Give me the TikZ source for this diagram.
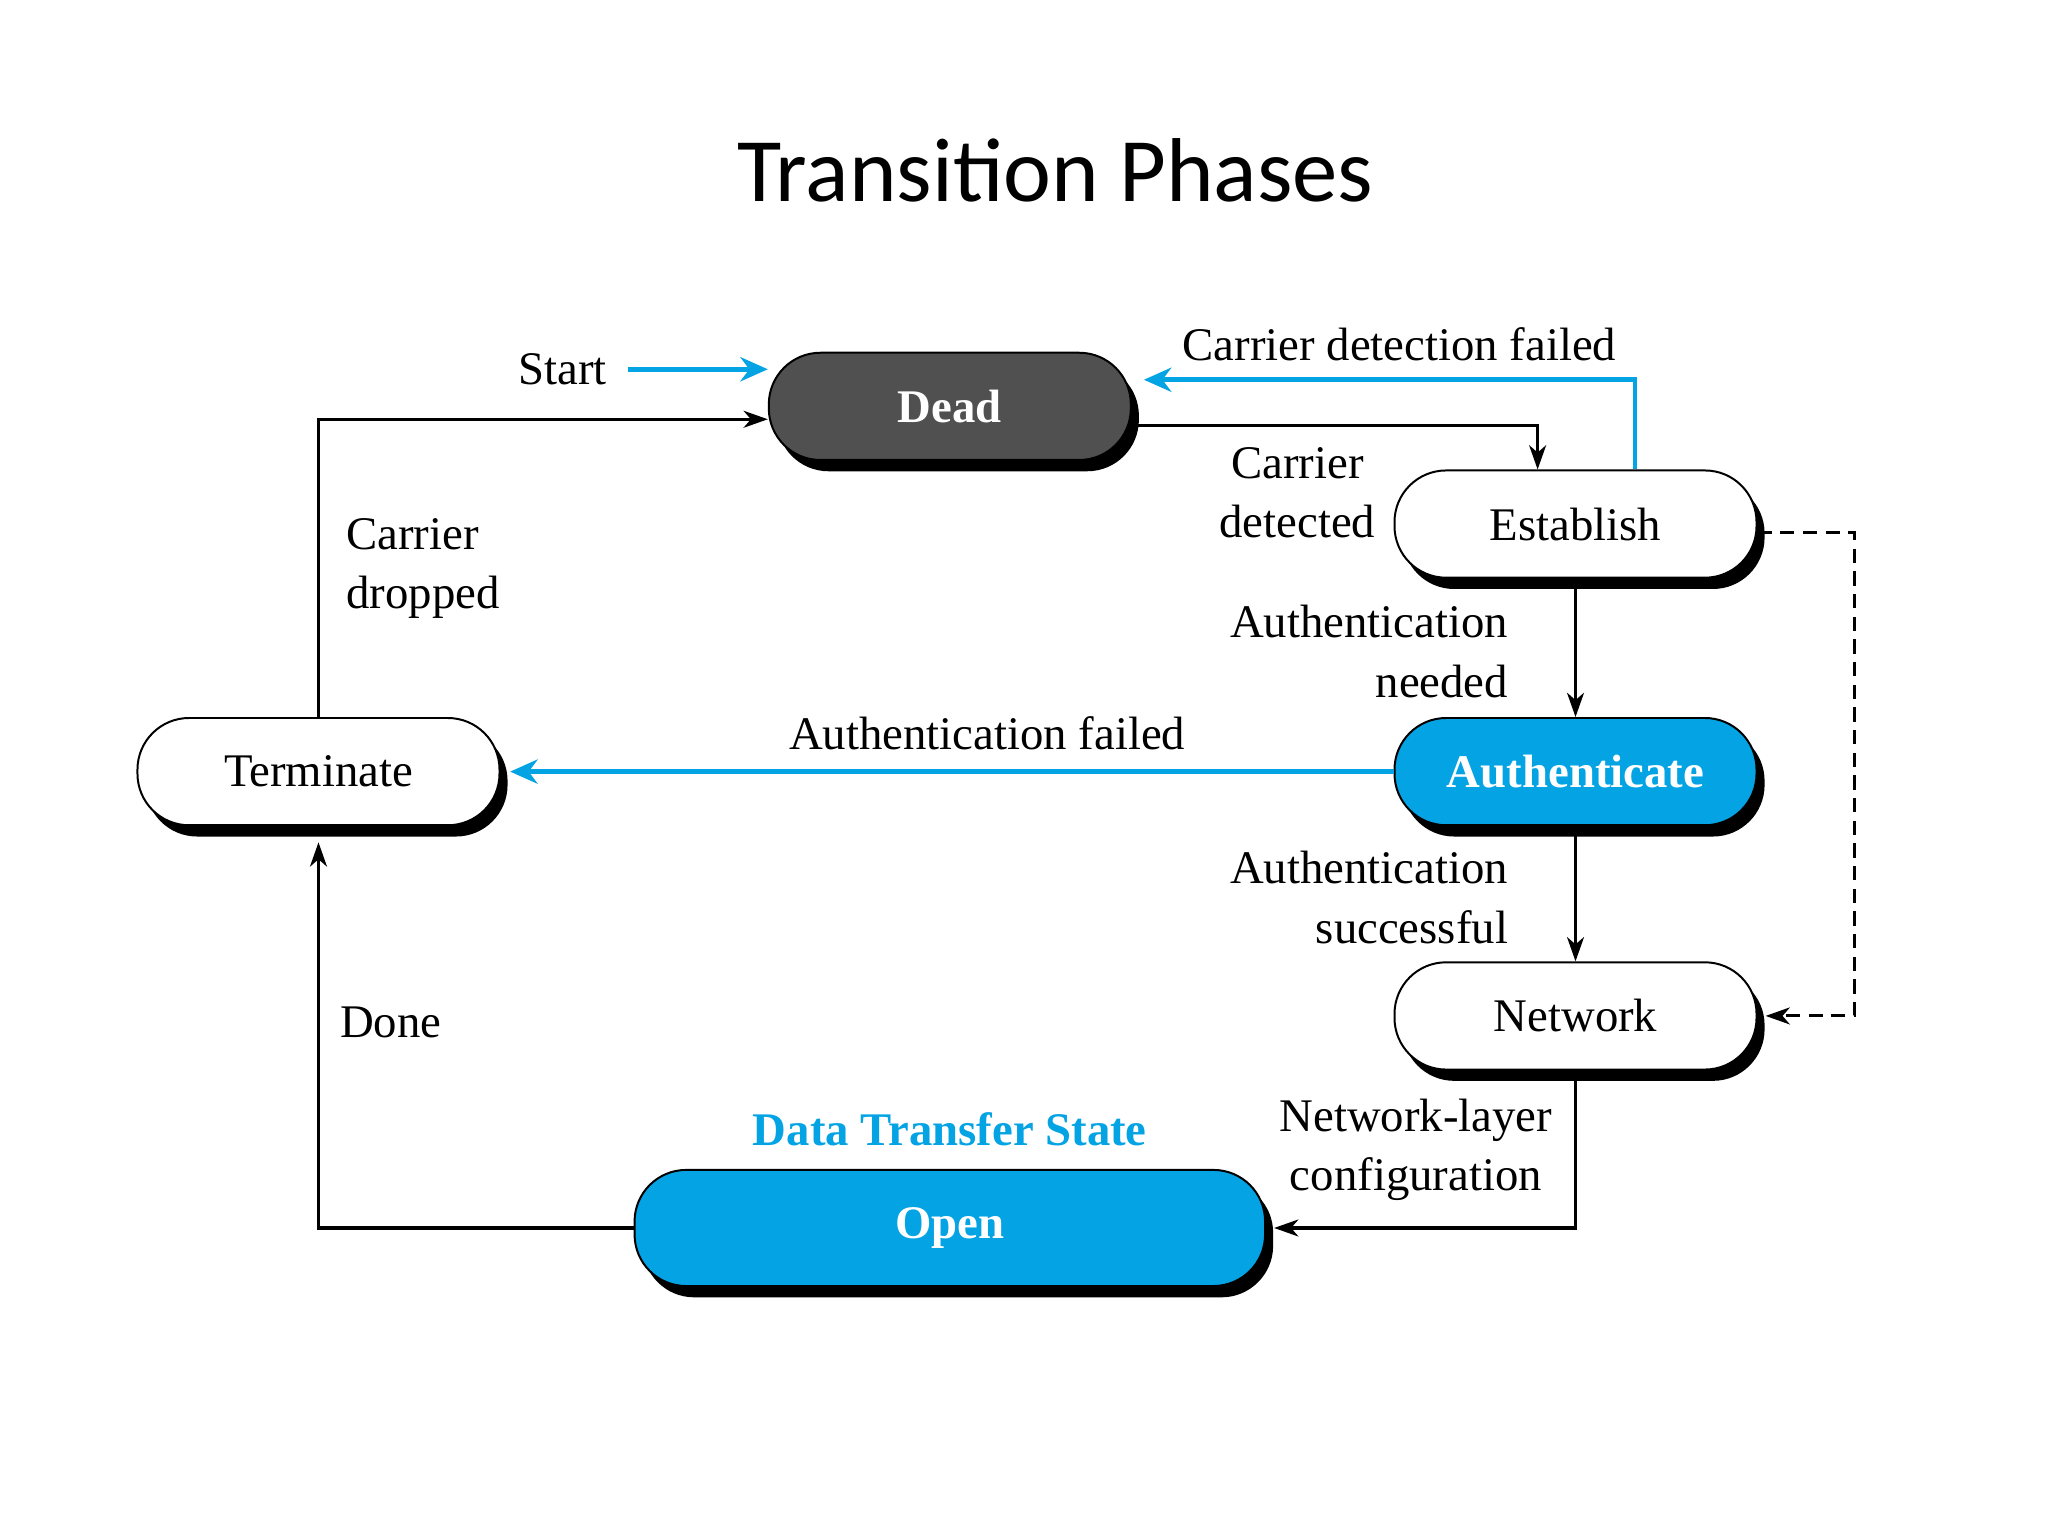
\documentclass[tikz,border=0pt]{standalone}
\usepackage{fontspec}
\setmainfont{Liberation Serif}
\newfontfamily\titlefont{Carlito}
\usepackage{tikz}
\usetikzlibrary{arrows.meta, positioning, shadows, calc}
\definecolor{pppblue}{RGB}{4,163,228}
\definecolor{deadgray}{RGB}{80,80,80}

\begin{document}
\begin{tikzpicture}[
  font=\fontsize{16.5}{21}\selectfont,
  phase/.style={draw=black, line width=0.7pt, rounded corners=0.64cm, fill=white, align=center,
    inner sep=0pt, minimum width=4.49cm, minimum height=1.33cm,
    drop shadow={shadow xshift=0.1cm, shadow yshift=-0.14cm, fill=black, opacity=1}},
  darkphase/.style={phase, fill=deadgray, text=white, font=\fontsize{16.5}{21}\selectfont\bfseries},
  bluephase/.style={phase, fill=pppblue, text=white, font=\fontsize{16.5}{21}\selectfont\bfseries},
  lbl/.style={align=center, inner sep=0pt},
  arr/.style={-{Stealth[length=3mm, width=2.1mm, inset=0.9mm]}, line width=1.1pt},
  barr/.style={-{Stealth[length=3.4mm, width=3mm]}, line width=1.6pt, pppblue}
]
  \useasboundingbox (0,0) rectangle (25.4,19.05);
  \node[font=\titlefont\fontsize{32}{38}\selectfont] (title) at (13.09,16.94) {Transition Phases};

  \node[darkphase] (dead) at (11.78,14.01) {Dead};
  \node[phase] (est) at (19.54,12.55) {Establish};
  \node[bluephase] (auth) at (19.54,9.48) {Authenticate};
  \node[phase] (net) at (19.54,6.45) {Network};
  \node[phase] (term) at (3.95,9.48) {Terminate};
  \node[bluephase, minimum width=7.82cm, minimum height=1.44cm] (open) at (11.78,3.82) {Open};
  \node[lbl, above=0.28cm of open, text=pppblue, font=\fontsize{16.5}{21}\selectfont\bfseries] (dts) {Data Transfer State};

  \node[lbl] (start) at (6.98,14.47) {Start};
  \node[lbl] (cdet) at (16.09,12.94) {Carrier\\detected};
  \node[lbl, align=right, anchor=east] (aneed) at (18.71,10.97) {Authentication\\needed};
  \node[lbl, align=right, anchor=east] (asucc) at (18.71,7.92) {Authentication\\successful};
  \node[lbl, align=left, anchor=west] (cdrop) at (4.29,12.0) {Carrier\\dropped};
  \node[lbl, anchor=west] (done) at (4.21,6.37) {Done};
  \node[lbl] (nlc) at (17.56,4.79) {Network-layer\\configuration};

  \draw[barr] ([xshift=0.25cm]start.east) -- (start -| dead.west);
  \draw[arr] ([yshift=-0.24cm]dead.east) -| ([xshift=-0.47cm]est.north);
  \draw[barr] ([xshift=0.74cm]est.north) |- ([xshift=0.15cm, yshift=0.33cm]dead.east)
    node[lbl, pos=0.74, above=6pt, black] {Carrier detection failed};
  \draw[arr] (est) -- (auth);
  \draw[arr] (auth) -- (net);
  \draw[arr, dash pattern=on 5pt off 3pt] ([yshift=-0.1cm]est.east) -- ++(1.2,0) |- ([xshift=0.1cm]net.east);
  \draw[barr] (auth.west) -- ([xshift=0.12cm]term.east)
    node[lbl, pos=0.46, above=7pt, black] {Authentication failed};
  \draw[arr] (term.north) |- ([yshift=-0.16cm]dead.west);
  \draw[arr] (open.west) -| ([yshift=-0.2cm]term.south);
  \draw[arr] (net.south) |- ([xshift=0.1cm]open.east);
\end{tikzpicture}
\end{document}
